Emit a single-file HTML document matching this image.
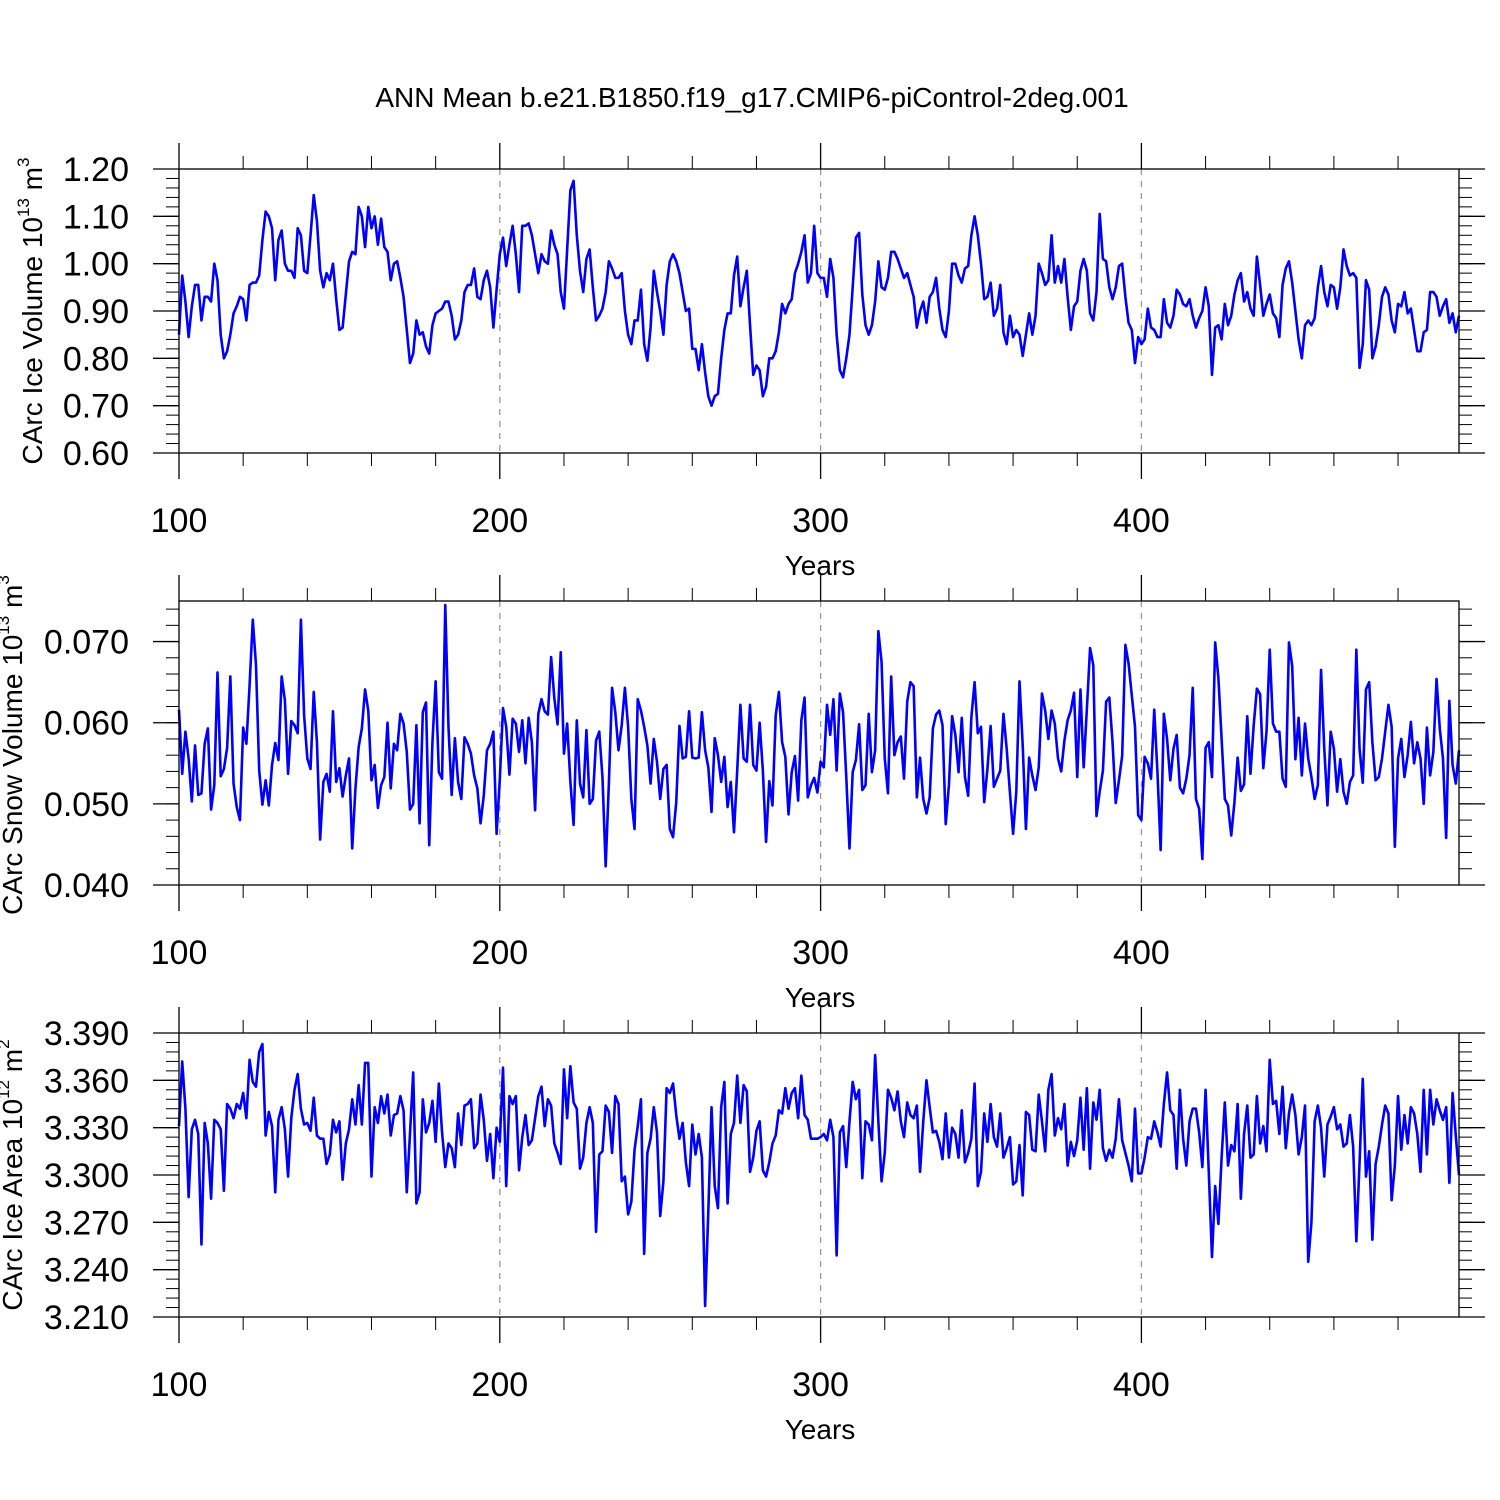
<!DOCTYPE html>
<html><head><meta charset="utf-8"><title>ANN Mean CArc</title>
<style>
html,body{margin:0;padding:0;background:#fff;}
svg{display:block;font-family:"Liberation Sans",Arial,sans-serif;}
</style></head>
<body>
<svg id="chart" width="1500" height="1500" viewBox="0 0 1500 1500" xmlns="http://www.w3.org/2000/svg">
<rect x="0" y="0" width="1500" height="1500" fill="#fff"/>
<text x="752" y="107" font-size="28" text-anchor="middle">ANN Mean b.e21.B1850.f19_g17.CMIP6-piControl-2deg.001</text>
</svg>
<script>
const firstYear = 100;
const xTickLabels = ["100","200","300","400"];
const xTickYears = [100,200,300,400];
const iceVolume = [
.85,.975,.92,.845,.91,.955,.955,.88,.93,.93,
.92,1.00,.965,.85,.80,.815,.85,.895,.91,.93,
.925,.88,.955,.96,.96,.975,1.05,1.11,1.10,1.075,
.965,1.05,1.07,1.00,.985,.985,.97,1.075,1.06,.985,
.98,1.06,1.145,1.09,.985,.95,.98,.965,1.00,.925,
.86,.865,.935,1.005,1.025,1.02,1.12,1.10,1.035,1.12,
1.075,1.10,1.04,1.095,1.035,1.025,.965,1.00,1.005,.97,
.93,.86,.79,.81,.88,.85,.855,.825,.81,.87,
.895,.90,.905,.92,.92,.89,.84,.85,.88,.94,
.955,.955,.99,.93,.925,.965,.985,.95,.865,.945,
1.02,1.055,.995,1.04,1.08,1.02,.94,1.08,1.08,1.085,
1.06,1.02,.98,1.02,1.005,1.00,1.07,1.04,1.02,.94,
.905,1.03,1.155,1.175,1.06,.985,.94,1.01,1.03,.95,
.88,.89,.905,.94,1.005,.99,.97,.97,.98,.90,
.85,.83,.88,.88,.945,.83,.795,.865,.985,.94,
.90,.85,.955,1.005,1.02,1.005,.98,.94,.90,.905,
.82,.82,.775,.83,.77,.72,.70,.72,.725,.80,
.86,.895,.895,.975,1.015,.91,.95,.985,.87,.765,
.785,.775,.72,.74,.80,.80,.815,.855,.915,.895,
.915,.925,.98,1.00,1.025,1.06,.96,.98,1.08,.98,
.97,.97,.93,1.01,.97,.85,.775,.76,.80,.85,
.95,1.055,1.065,.935,.87,.85,.87,.92,1.005,.95,
.945,.97,1.025,1.025,1.01,.99,.97,.98,.955,.93,
.865,.90,.92,.875,.93,.94,.97,.905,.86,.845,
.90,1.00,1.00,.975,.96,.99,.995,1.06,1.10,1.06,
1.00,.925,.93,.96,.89,.905,.955,.855,.83,.89,
.845,.86,.85,.805,.85,.895,.85,.89,1.00,.98,
.955,.965,1.06,.96,.995,.96,1.01,.93,.86,.91,
.92,.985,1.01,.985,.895,.88,.94,1.105,1.01,1.005,
.95,.925,.95,.995,1.00,.93,.875,.86,.79,.845,
.83,.84,.905,.865,.86,.845,.845,.925,.875,.865,
.89,.945,.935,.915,.91,.925,.89,.865,.885,.90,
.95,.91,.765,.865,.87,.84,.915,.87,.89,.935,
.965,.98,.92,.94,.905,.89,1.015,.955,.89,.915,
.935,.895,.885,.845,.955,.99,1.005,.96,.90,.84,
.80,.87,.88,.87,.885,.95,.995,.94,.91,.955,
.95,.905,.95,1.03,.995,.975,.98,.97,.78,.83,
.965,.945,.80,.825,.87,.93,.95,.935,.88,.855,
.915,.91,.94,.895,.905,.86,.815,.815,.855,.86,
.94,.94,.93,.89,.91,.925,.875,.895,.855,.89];
const snowVolume = [
.0616,.0537,.0589,.0556,.0503,.0572,.0511,.0513,.0574,.0593,
.0493,.0523,.0662,.0534,.0543,.0569,.0657,.0525,.0496,.0480,
.0594,.0574,.0646,.0727,.0671,.0541,.0499,.0529,.0498,.0548,
.0575,.0554,.0657,.0628,.0537,.0602,.0597,.0587,.0727,.0609,
.0556,.0543,.0638,.0576,.0456,.0527,.0537,.0515,.0614,.0527,
.0544,.0509,.0535,.0556,.0445,.0519,.0570,.0593,.0641,.0615,
.0529,.0548,.0495,.0523,.0533,.0600,.0519,.0574,.0566,.0611,
.0599,.0564,.0493,.0500,.0597,.0476,.0613,.0625,.0449,.0576,
.0651,.0539,.0531,.0745,.0595,.0511,.0581,.0527,.0506,.0582,
.0574,.0562,.0535,.0519,.0476,.0510,.0566,.0574,.0589,.0463,
.0530,.0618,.0595,.0536,.0605,.0599,.0564,.0603,.0550,.0606,
.0576,.0492,.0611,.0629,.0614,.0610,.0681,.0630,.0598,.0687,
.0562,.0599,.0527,.0474,.0603,.0525,.0508,.0591,.0500,.0506,
.0578,.0589,.0533,.0423,.0525,.0643,.0613,.0566,.0597,.0643,
.0595,.0506,.0469,.0629,.0615,.0595,.0572,.0525,.0580,.0552,
.0506,.0543,.0548,.0469,.0459,.0502,.0596,.0556,.0558,.0614,
.0557,.0556,.0557,.0613,.0566,.0545,.0490,.0581,.0560,.0527,
.0558,.0496,.0527,.0465,.0541,.0622,.0556,.0552,.0622,.0548,
.0541,.0600,.0541,.0453,.0528,.0498,.0609,.0638,.0576,.0558,
.0487,.0539,.0559,.0504,.0603,.0631,.0508,.0523,.0532,.0514,
.0552,.0545,.0622,.0585,.0629,.0541,.0636,.0613,.0533,.0445,
.0539,.0554,.0598,.0517,.0523,.0611,.0539,.0566,.0713,.0675,
.0556,.0513,.0657,.0560,.0576,.0583,.0531,.0626,.0650,.0645,
.0508,.0557,.0506,.0488,.0508,.0593,.0610,.0615,.0597,.0475,
.0523,.0608,.0585,.0539,.0606,.0533,.0510,.0607,.0650,.0587,
.0595,.0502,.0543,.0596,.0521,.0531,.0541,.0611,.0568,.0515,
.0463,.0515,.0651,.0572,.0469,.0557,.0535,.0517,.0545,.0636,
.0615,.0580,.0615,.0599,.0556,.0540,.0578,.0603,.0615,.0637,
.0533,.0641,.0545,.0617,.0692,.0671,.0485,.0515,.0541,.0626,
.0631,.0576,.0501,.0529,.0559,.0696,.0673,.0634,.0595,.0486,
.0480,.0558,.0550,.0531,.0616,.0539,.0443,.0611,.0580,.0529,
.0568,.0585,.0520,.0513,.0531,.0560,.0643,.0506,.0494,.0432,
.0569,.0576,.0533,.0699,.0655,.0580,.0506,.0498,.0461,.0502,
.0557,.0516,.0524,.0608,.0537,.0597,.0642,.0635,.0544,.0589,
.0690,.0599,.0589,.0589,.0531,.0521,.0699,.0670,.0555,.0606,
.0535,.0599,.0556,.0533,.0506,.0523,.0665,.0568,.0498,.0589,
.0568,.0515,.0555,.0515,.0500,.0527,.0535,.0690,.0568,.0526,
.0641,.0650,.0576,.0529,.0533,.0556,.0589,.0622,.0595,.0447,
.0556,.0580,.0533,.0560,.0601,.0550,.0576,.0556,.0500,.0594,
.0535,.0564,.0654,.0593,.0556,.0458,.0627,.0548,.0525,.0566];
const iceArea = [
3.331,3.372,3.342,3.286,3.329,3.335,3.326,3.256,3.333,3.320,
3.285,3.335,3.333,3.329,3.290,3.345,3.342,3.336,3.345,3.342,
3.352,3.336,3.373,3.359,3.356,3.378,3.383,3.325,3.340,3.331,
3.289,3.335,3.343,3.329,3.299,3.336,3.354,3.364,3.342,3.332,
3.333,3.328,3.349,3.325,3.323,3.323,3.307,3.313,3.335,3.327,
3.334,3.297,3.320,3.329,3.348,3.332,3.357,3.332,3.371,3.371,
3.299,3.343,3.333,3.350,3.339,3.351,3.325,3.338,3.339,3.350,
3.341,3.289,3.326,3.365,3.282,3.289,3.348,3.327,3.333,3.347,
3.321,3.358,3.327,3.305,3.320,3.317,3.305,3.339,3.319,3.344,
3.345,3.348,3.317,3.320,3.351,3.335,3.309,3.326,3.298,3.330,
3.321,3.368,3.293,3.350,3.345,3.350,3.303,3.324,3.338,3.319,
3.322,3.336,3.350,3.356,3.331,3.348,3.344,3.320,3.314,3.307,
3.367,3.336,3.369,3.346,3.342,3.304,3.311,3.333,3.343,3.333,
3.264,3.313,3.315,3.344,3.340,3.314,3.350,3.345,3.296,3.299,
3.275,3.283,3.316,3.331,3.348,3.250,3.314,3.323,3.343,3.327,
3.274,3.296,3.355,3.352,3.358,3.338,3.323,3.333,3.308,3.293,
3.332,3.313,3.326,3.311,3.217,3.277,3.343,3.293,3.279,3.343,
3.359,3.282,3.326,3.333,3.363,3.333,3.357,3.353,3.302,3.311,
3.328,3.334,3.303,3.299,3.308,3.320,3.325,3.341,3.339,3.355,
3.342,3.352,3.355,3.336,3.363,3.338,3.335,3.323,3.323,3.323,
3.324,3.326,3.322,3.335,3.324,3.249,3.327,3.331,3.305,3.334,
3.359,3.348,3.354,3.298,3.334,3.332,3.322,3.376,3.334,3.296,
3.314,3.354,3.349,3.341,3.353,3.334,3.324,3.346,3.338,3.336,
3.344,3.302,3.334,3.360,3.343,3.327,3.328,3.321,3.310,3.339,
3.311,3.330,3.326,3.311,3.341,3.308,3.314,3.323,3.358,3.293,
3.302,3.339,3.321,3.345,3.324,3.318,3.339,3.311,3.317,3.324,
3.294,3.296,3.319,3.287,3.340,3.338,3.316,3.315,3.351,3.334,
3.315,3.354,3.364,3.325,3.336,3.329,3.345,3.306,3.321,3.312,
3.322,3.349,3.316,3.355,3.304,3.346,3.335,3.354,3.317,3.309,
3.316,3.311,3.323,3.348,3.322,3.314,3.306,3.296,3.342,3.301,
3.301,3.311,3.324,3.323,3.334,3.327,3.318,3.345,3.365,3.341,
3.338,3.304,3.354,3.323,3.306,3.334,3.342,3.342,3.327,3.305,
3.354,3.302,3.248,3.293,3.269,3.311,3.346,3.306,3.319,3.315,
3.345,3.285,3.326,3.344,3.311,3.313,3.350,3.320,3.331,3.315,
3.373,3.345,3.347,3.326,3.356,3.317,3.339,3.351,3.338,3.313,
3.324,3.344,3.245,3.270,3.334,3.344,3.330,3.299,3.332,3.337,
3.343,3.329,3.332,3.318,3.320,3.338,3.318,3.258,3.308,3.361,
3.299,3.315,3.259,3.307,3.318,3.332,3.344,3.339,3.284,3.306,
3.350,3.316,3.338,3.320,3.343,3.339,3.326,3.302,3.354,3.313,
3.354,3.332,3.348,3.341,3.335,3.343,3.295,3.352,3.325,3.300];
const iceVolumeTicks = [0.60,0.70,0.80,0.90,1.00,1.10,1.20];
const iceVolumeTickLabels = ["0.60","0.70","0.80","0.90","1.00","1.10","1.20"];
const snowVolumeTicks = [0.040,0.050,0.060,0.070];
const snowVolumeTickLabels = ["0.040","0.050","0.060","0.070"];
const iceAreaTicks = [3.210,3.240,3.270,3.300,3.330,3.360,3.390];
const iceAreaTickLabels = ["3.210","3.240","3.270","3.300","3.330","3.360","3.390"];

const NS = "http://www.w3.org/2000/svg";
const svg = document.getElementById('chart');
const X0 = 179, X1 = 1459, YEAR0 = 100, YEAR1 = 499;
function xScale(yr){ return X0 + (yr - YEAR0) * (X1 - X0) / (YEAR1 - YEAR0); }
function mk(tag, attrs, parent){
  const e = document.createElementNS(NS, tag);
  for (const k in attrs) e.setAttribute(k, attrs[k]);
  (parent || svg).appendChild(e);
  return e;
}

const panels = [
  {key:'ice-volume', top:169, bot:453, min:0.60, max:1.20, minor:0.02, data:iceVolume, ticks:iceVolumeTicks, labels:iceVolumeTickLabels,
   title:'CArc Ice Volume 10', sup:'13', unit:' m', usup:'3', tx:42, ty:311},
  {key:'snow-volume', top:601, bot:885, min:0.040, max:0.075, minor:0.002, data:snowVolume, ticks:snowVolumeTicks, labels:snowVolumeTickLabels,
   title:'CArc Snow Volume 10', sup:'13', unit:' m', usup:'3', tx:22, ty:745},
  {key:'ice-area', top:1033, bot:1317, min:3.210, max:3.390, minor:0.006, data:iceArea, ticks:iceAreaTicks, labels:iceAreaTickLabels,
   title:'CArc Ice Area 10', sup:'12', unit:' m', usup:'2', tx:22, ty:1175}
];

panels.forEach(p => {
  const g = mk('g', {});
  
  
  const yS = v => p.bot - (v - p.min) * (p.bot - p.top) / (p.max - p.min);

  // dashed gridlines
  [200,300,400].forEach(yr => {
    const l = mk('line', {x1:xScale(yr), x2:xScale(yr), y1:p.top, y2:p.bot, stroke:'#999', 'stroke-width':1.3, 'stroke-dasharray':'6,6'}, g);
    
    
  });

  // series line
  let d = '';
  p.data.forEach((v, i) => { d += (i ? 'L' : 'M') + xScale(firstYear + i).toFixed(2) + ',' + yS(v).toFixed(2); });
  const path = mk('path', {d:d, fill:'none', stroke:'#0000ff', 'stroke-width':2.6, 'stroke-linejoin':'round'}, g);
  
  

  // frame
  const fr = mk('rect', {x:X0, y:p.top, width:X1 - X0, height:p.bot - p.top, fill:'none', stroke:'#000', 'stroke-width':1.3}, g);
  
  

  // y ticks
  const nMinor = Math.round((p.max - p.min) / p.minor);
  for (let k = 0; k <= nMinor; k++) {
    const v = p.min + k * p.minor, y = yS(v);
    mk('line', {x1:X0 - 13, x2:X0, y1:y, y2:y, stroke:'#000', 'stroke-width':1}, g);
    mk('line', {x1:X1, x2:X1 + 13, y1:y, y2:y, stroke:'#000', 'stroke-width':1}, g);
  }
  p.ticks.forEach((v, i) => {
    const y = yS(v);
    mk('line', {x1:X0 - 26, x2:X0, y1:y, y2:y, stroke:'#000', 'stroke-width':1.3}, g);
    mk('line', {x1:X1, x2:X1 + 26, y1:y, y2:y, stroke:'#000', 'stroke-width':1.3}, g);
    const t = mk('text', {x:129, y:y + 12, 'font-size':34, 'text-anchor':'end'}, g);
    t.textContent = p.labels[i];
    
    
  });

  // x ticks
  for (let yr = 100; yr <= 499; yr += 20) {
    const x = xScale(yr);
    const major = (yr % 100 === 0);
    const L = major ? 26 : 13;
    mk('line', {x1:x, x2:x, y1:p.top - L, y2:p.top, stroke:'#000', 'stroke-width':major ? 1.3 : 1}, g);
    mk('line', {x1:x, x2:x, y1:p.bot, y2:p.bot + L, stroke:'#000', 'stroke-width':major ? 1.3 : 1}, g);
  }
  xTickYears.forEach((yr, i) => {
    const t = mk('text', {x:xScale(yr), y:p.bot + 79, 'font-size':34, 'text-anchor':'middle'}, g);
    t.textContent = xTickLabels[i];
    
    
  });
  const xt = mk('text', {x:820, y:p.bot + 122, 'font-size':28, 'text-anchor':'middle'}, g);
  xt.textContent = 'Years';
  
  

  // y title
  const yt = mk('text', {x:0, y:0, 'font-size':28, 'text-anchor':'middle', transform:'translate(' + p.tx + ',' + p.ty + ') rotate(-90)'}, g);
  
  
  const s1 = mk('tspan', {}, yt); s1.textContent = p.title;
  const s2 = mk('tspan', {'font-size':17, dy:-13}, yt); s2.textContent = p.sup;
  const s3 = mk('tspan', {dy:13}, yt); s3.textContent = p.unit;
  const s4 = mk('tspan', {'font-size':17, dy:-13}, yt); s4.textContent = p.usup;
});
</script>
</body></html>
